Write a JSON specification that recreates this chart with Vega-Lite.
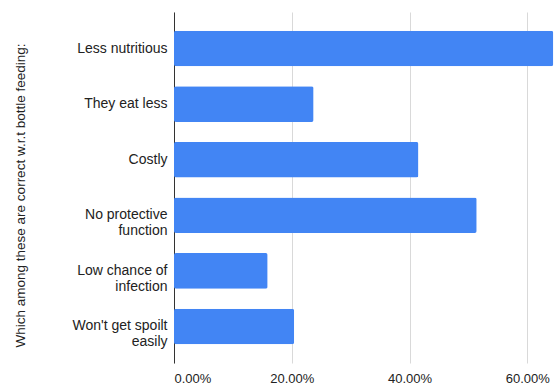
{
  "$schema": "https://vega.github.io/schema/vega-lite/v6.json",
  "autosize": {"type": "none"},
  "width": 381,
  "height": 351,
  "padding": {"left": 174, "top": 12, "right": 5, "bottom": 21},
  "background": "white",
  "data": {
    "values": [
      {"option": "Less nutritious", "share": 0.644},
      {"option": "They eat less", "share": 0.237},
      {"option": "Costly", "share": 0.415},
      {"option": "No protective function", "share": 0.514},
      {"option": "Low chance of infection", "share": 0.159},
      {"option": "Won't get spoilt easily", "share": 0.204}
    ]
  },
  "mark": {"type": "bar", "color": "#4285F4", "cornerRadius": 2},
  "encoding": {
    "y": {
      "field": "option",
      "type": "nominal",
      "sort": null,
      "scale": {"paddingInner": 0.36, "paddingOuter": 0.337},
      "axis": {
        "title": "Which among these are correct w.r.t bottle feeding:",
        "titleFont": "Liberation Sans",
        "titleFontSize": 13.5,
        "titleFontWeight": "normal",
        "titleColor": "#222222",
        "titleX": -154,
        "titleY": 183,
        "titleAngle": -90,
        "titleAlign": "center",
        "titleBaseline": "middle",
        "labelFont": "Liberation Sans",
        "labelFontSize": 14,
        "labelColor": "#222222",
        "labelAlign": "right",
        "labelPadding": 7,
        "labelLineHeight": 16,
        "labelLimit": 200,
        "labelExpr": "datum.label == 'No protective function' ? ['No protective', 'function'] : datum.label == 'Low chance of infection' ? ['Low chance of', 'infection'] : datum.label == \"Won't get spoilt easily\" ? [\"Won't get spoilt\", 'easily'] : datum.label",
        "ticks": false,
        "domain": true,
        "domainColor": "#333333",
        "grid": false
      }
    },
    "x": {
      "field": "share",
      "type": "quantitative",
      "scale": {"domain": [0, 0.647], "nice": false},
      "axis": {
        "title": null,
        "format": ".2%",
        "values": [0, 0.2, 0.4, 0.6],
        "labelFont": "Liberation Sans",
        "labelFontSize": 13,
        "labelColor": "#222222",
        "labelPadding": 9,
        "ticks": false,
        "domain": false,
        "grid": true,
        "gridColor": "#d9d9d9",
        "gridWidth": 1
      }
    }
  },
  "config": {"view": {"stroke": null}}
}
